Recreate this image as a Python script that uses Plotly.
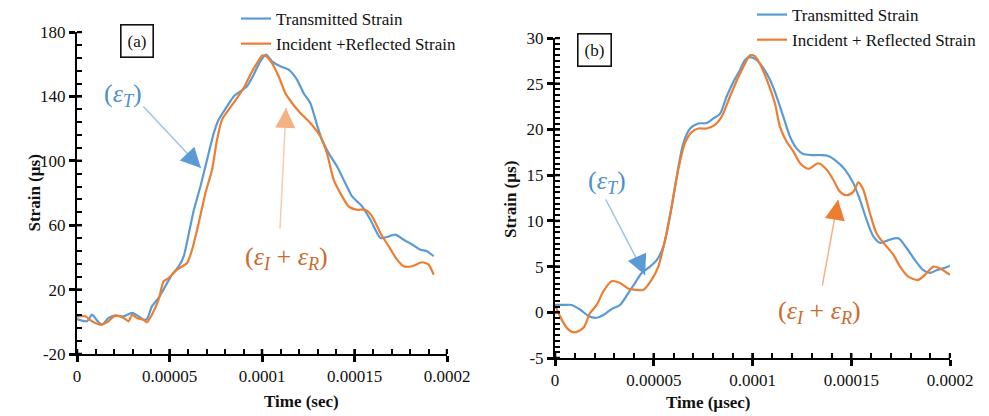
import plotly.graph_objects as go

# ---------------- data: panel (a) ----------------
t_a_T = [0, 0.0000054, 0.0000081, 0.0000108, 0.0000135, 0.0000171, 0.0000207, 0.0000252, 0.0000297,
         0.0000333, 0.0000360, 0.0000378, 0.0000405, 0.0000441, 0.0000477, 0.0000514, 0.0000550,
         0.0000577, 0.0000605, 0.0000632, 0.0000667, 0.0000703, 0.0000739, 0.0000766, 0.0000811,
         0.0000847, 0.0000883, 0.0000919, 0.0000955, 0.0000991, 0.0001022, 0.0001054, 0.0001099,
         0.0001144, 0.0001189, 0.0001225, 0.0001261, 0.0001297, 0.0001324, 0.0001360, 0.0001405,
         0.0001450, 0.0001486, 0.0001514, 0.0001541, 0.0001586, 0.0001640, 0.0001676, 0.0001721,
         0.0001766, 0.0001811, 0.0001856, 0.0001892, 0.0001928]
v_a_T = [1.7, 0.3, 4.4, 0.9, -1.8, 2.4, 3.8, 3.4, 5.5,
         3.4, 1.3, 1.7, 9.6, 14.8, 22.0, 29.3, 34.5,
         40.7, 55.2, 69.6, 84.0, 100.7, 117.0, 125.6, 133.8,
         140.0, 143.1, 146.3, 153.5, 161.8, 165.9, 161.8, 158.7,
         156.6, 150.4, 142.0, 135.9, 122.4, 113.1, 104.8, 96.6,
         86.2, 78.0, 74.8, 71.7, 63.4, 52.0, 52.7, 54.1,
         51.0, 48.0, 44.8, 43.8, 40.7]

t_a_IR = [0, 0.0000045, 0.0000081, 0.0000126, 0.0000162, 0.0000207, 0.0000252, 0.0000279, 0.0000297,
          0.0000324, 0.0000360, 0.0000378, 0.0000405, 0.0000441, 0.0000468, 0.0000495, 0.0000541,
          0.0000595, 0.0000622, 0.0000658, 0.0000694, 0.0000730, 0.0000757, 0.0000784, 0.0000820,
          0.0000865, 0.0000901, 0.0000937, 0.0000973, 0.0001000, 0.0001018, 0.0001054, 0.0001090,
          0.0001126, 0.0001162, 0.0001207, 0.0001261, 0.0001315, 0.0001351, 0.0001387, 0.0001423,
          0.0001468, 0.0001514, 0.0001559, 0.0001595, 0.0001640, 0.0001685, 0.0001730, 0.0001766,
          0.0001811, 0.0001865, 0.0001901, 0.0001928]
v_a_IR = [3.4, 3.4, 0.3, -1.8, -0.3, 3.8, 2.4, 0.3, 4.4,
          2.4, 1.3, -0.3, 4.4, 13.7, 25.1, 27.2, 32.4,
          36.5, 44.8, 61.4, 79.9, 94.5, 113.1, 125.6, 131.8,
          139.0, 145.2, 153.5, 160.7, 165.3, 165.3, 160.7, 152.5,
          142.1, 135.9, 129.7, 123.5, 115.2, 104.8, 88.3, 80.0,
          71.7, 69.6, 69.6, 65.5, 55.2, 46.9, 38.6, 34.5,
          34.5, 37.0, 35.5, 29.3]

# ---------------- data: panel (b) ----------------
t_b_T = [0, 0.0000042, 0.0000084, 0.0000127, 0.0000169, 0.0000211, 0.0000245, 0.0000287, 0.0000329,
         0.0000371, 0.0000405, 0.0000439, 0.0000481, 0.0000515, 0.0000549, 0.0000582, 0.0000616,
         0.0000650, 0.0000684, 0.0000726, 0.0000768, 0.0000802, 0.0000835, 0.0000869, 0.0000903,
         0.0000937, 0.0000962, 0.0000987, 0.0001021, 0.0001055, 0.0001089, 0.0001122, 0.0001156,
         0.0001190, 0.0001224, 0.0001257, 0.0001300, 0.0001342, 0.0001384, 0.0001426, 0.0001468,
         0.0001511, 0.0001544, 0.0001578, 0.0001612, 0.0001646, 0.0001688, 0.0001738, 0.0001781,
         0.0001823, 0.0001865, 0.0001899, 0.0001932, 0.0001966, 0.0002000]
v_b_T = [0.8, 0.8, 0.8, 0.3, -0.4, -0.6, -0.3, 0.35, 0.8,
         2.1, 3.2, 4.3, 5.0, 5.7, 7.2, 10.5, 14.8,
         18.5, 20.1, 20.65, 20.7, 21.2, 21.7, 23.6, 25.2,
         26.5, 27.6, 27.9, 27.6, 26.7, 25.4, 23.6, 21.4,
         19.2, 17.9, 17.3, 17.2, 17.2, 17.1, 16.5, 15.6,
         14.1, 12.3, 10.1, 8.3, 7.6, 7.9, 8.1, 7.0,
         5.7, 4.6, 4.3, 4.6, 4.8, 5.1]

t_b_IR = [0, 0.0000034, 0.0000068, 0.0000096, 0.0000144, 0.0000177, 0.0000211, 0.0000245, 0.0000287,
          0.0000329, 0.0000371, 0.0000414, 0.0000447, 0.0000489, 0.0000523, 0.0000557, 0.0000591,
          0.0000624, 0.0000658, 0.0000692, 0.0000726, 0.0000768, 0.0000810, 0.0000844, 0.0000886,
          0.0000928, 0.0000962, 0.0000987, 0.0001013, 0.0001046, 0.0001080, 0.0001114, 0.0001139,
          0.0001173, 0.0001207, 0.0001241, 0.0001283, 0.0001333, 0.0001376, 0.0001409, 0.0001443,
          0.0001477, 0.0001511, 0.0001536, 0.0001561, 0.0001595, 0.0001629, 0.0001671, 0.0001713,
          0.0001747, 0.0001789, 0.0001840, 0.0001882, 0.0001916, 0.0001949, 0.0002000]
v_b_IR = [0.8, -0.8, -1.9, -2.2, -1.7, -0.1, 0.8, 2.3, 3.4,
          3.2, 2.6, 2.45, 2.45, 3.55, 5.0, 7.9, 11.6,
          15.6, 18.5, 19.7, 20.1, 20.1, 20.5, 21.4, 23.6,
          25.7, 27.2, 28.1, 28.0, 26.8, 25.0, 22.8, 20.3,
          18.65, 17.6, 16.3, 15.7, 16.3, 15.6, 14.5, 13.2,
          12.8, 13.2, 14.2, 13.4, 10.8, 8.6, 7.4, 6.3,
          5.0, 3.9, 3.55, 4.3, 5.0, 4.8, 4.1]

x_tickvals = [0, 0.00005, 0.0001, 0.00015, 0.0002]
x_ticktext = ["0", "0.00005", "0.0001", "0.00015", "0.0002"]
y_a_ticks = [-20, 20, 60, 100, 140, 180]
y_a_text = ["-20", "20", "60", "100", "140", "180"]
y_b_ticks = [-5, 0, 5, 10, 15, 20, 25, 30]
y_b_text = ["-5", "0", "5", "10", "15", "20", "25", "30"]
x_minor_step = 0.00001
y_a_minor_step = 8
y_b_minor_step = 0.625

BLUE = "#5b9bd5"
ORANGE = "#ed7d31"
SERIF = "Liberation Serif"
W, H = 989, 416
INK = "#000000"

def px_x(p):
    return p / W

def px_y(p):
    return 1 - p / H

fig = go.Figure()
fig.add_trace(go.Scatter(x=t_a_T, y=v_a_T, mode="lines", name="Transmitted Strain",
                         line=dict(color=BLUE, width=2.2, shape="spline", smoothing=0.6),
                         xaxis="x", yaxis="y", legend="legend"))
fig.add_trace(go.Scatter(x=t_a_IR, y=v_a_IR, mode="lines", name="Incident +Reflected Strain",
                         line=dict(color=ORANGE, width=2.2, shape="spline", smoothing=0.6),
                         xaxis="x", yaxis="y", legend="legend"))
fig.add_trace(go.Scatter(x=t_b_T, y=v_b_T, mode="lines", name="Transmitted Strain",
                         line=dict(color=BLUE, width=2.2, shape="spline", smoothing=0.8),
                         xaxis="x2", yaxis="y2", legend="legend2"))
fig.add_trace(go.Scatter(x=t_b_IR, y=v_b_IR, mode="lines", name="Incident + Reflected Strain",
                         line=dict(color=ORANGE, width=2.2, shape="spline", smoothing=0.8),
                         xaxis="x2", yaxis="y2", legend="legend2"))

tickfont = dict(family=SERIF, size=17, color="#111")

# plot areas in pixels
XA = (77, 447); YA = (32, 354)
XB = (555, 950); YB = (38, 358)
dom_xa = [px_x(XA[0]), px_x(XA[1])]
dom_ya = [px_y(YA[1]), px_y(YA[0])]
dom_xb = [px_x(XB[0]), px_x(XB[1])]
dom_yb = [px_y(YB[1]), px_y(YB[0])]

def xax(domain, anchor):
    return dict(domain=domain, anchor=anchor, range=[0, 0.0002], tickmode="array",
                tickvals=x_tickvals, ticktext=x_ticktext, ticks="outside", ticklen=6,
                tickwidth=2.5, tickcolor=INK, showline=True, linecolor=INK,
                linewidth=2, showgrid=False, zeroline=False, tickfont=tickfont,
                minor=dict(tickmode="linear", tick0=0, dtick=x_minor_step, ticks="inside",
                           ticklen=5, tickwidth=2, tickcolor=INK, showgrid=False))

def yax(domain, anchor, rng, vals, text, mstep):
    return dict(domain=domain, anchor=anchor, range=rng, tickmode="array",
                tickvals=vals, ticktext=text, ticks="outside", ticklen=6,
                tickwidth=2.5, tickcolor=INK, showline=True, linecolor=INK,
                linewidth=2, showgrid=False, zeroline=False, tickfont=tickfont,
                minor=dict(tickmode="linear", tick0=rng[0], dtick=mstep, ticks="inside",
                           ticklen=5, tickwidth=2, tickcolor=INK, showgrid=False))

legend_font = dict(family=SERIF, size=17, color="#111")
fig.update_layout(
    width=W, height=H,
    margin=dict(l=0, r=0, t=0, b=0, autoexpand=False),
    paper_bgcolor="white", plot_bgcolor="white",
    xaxis=xax(dom_xa, "y"),
    yaxis=yax(dom_ya, "x", [-20, 180], y_a_ticks, y_a_text, y_a_minor_step),
    xaxis2=xax(dom_xb, "y2"),
    yaxis2=yax(dom_yb, "x2", [-5, 30], y_b_ticks, y_b_text, y_b_minor_step),
    legend=dict(x=px_x(236), y=px_y(1), xanchor="left", yanchor="top",
                font=legend_font, bgcolor="rgba(0,0,0,0)", tracegroupgap=0, itemwidth=30),
    legend2=dict(x=px_x(752), y=px_y(-3), xanchor="left", yanchor="top",
                 font=legend_font, bgcolor="rgba(0,0,0,0)", tracegroupgap=0, itemwidth=30),
    showlegend=True,
)

# inner half of the crossing major ticks (drawn above the plot area)
MAJ_IN = 5
shapes = []
for v in x_tickvals:
    for xr, yr, ph in (("x", "y", YA[1] - YA[0]), ("x2", "y2", YB[1] - YB[0])):
        shapes.append(dict(type="line", xref=xr, yref=yr + " domain", x0=v, x1=v,
                           y0=0, y1=MAJ_IN / ph, layer="above",
                           line=dict(color=INK, width=2.5)))
for v in y_a_ticks:
    shapes.append(dict(type="line", xref="x domain", yref="y", y0=v, y1=v,
                       x0=0, x1=MAJ_IN / (XA[1] - XA[0]), layer="above",
                       line=dict(color=INK, width=2.5)))
for v in y_b_ticks:
    shapes.append(dict(type="line", xref="x2 domain", yref="y2", y0=v, y1=v,
                       x0=0, x1=MAJ_IN / (XB[1] - XB[0]), layer="above",
                       line=dict(color=INK, width=2.5)))

title_font = dict(family=SERIF, size=17, color="#111")
ann = []
ann.append(dict(text="<b>Strain (µs)</b>", x=px_x(22), y=px_y(193), xref="paper", yref="paper",
                textangle=-90, showarrow=False, font=title_font))
ann.append(dict(text="<b>Time (sec)</b>", x=px_x(262), y=px_y(413), xref="paper", yref="paper",
                yanchor="bottom", showarrow=False, font=title_font))
ann.append(dict(text="<b>Strain (µs)</b>", x=px_x(510), y=px_y(200), xref="paper", yref="paper",
                textangle=-90, showarrow=False, font=title_font))
ann.append(dict(text="<b>Time (µsec)</b>", x=px_x(753), y=px_y(414), xref="paper", yref="paper",
                yanchor="bottom", showarrow=False, font=title_font))
ann.append(dict(text="(a)", x=px_x(119.5), y=px_y(24.5), xref="paper", yref="paper",
                showarrow=False, font=dict(family=SERIF, size=17, color="#111"),
                bordercolor="#111", borderwidth=1.6, borderpad=6, bgcolor="white"))
ann.append(dict(text="(b)", x=px_x(594.5), y=px_y(33), xref="paper", yref="paper",
                showarrow=False, font=dict(family=SERIF, size=17, color="#111"),
                bordercolor="#111", borderwidth=1.6, borderpad=6, bgcolor="white"))

eps_T = "(<i>ε</i><sub><i>T</i></sub>)"
eps_IR = "(<i>ε</i><sub><i>I</i></sub> + <i>ε</i><sub><i>R</i></sub>)"
BLUE_TXT = "#4f8fd0"
ORANGE_TXT = "#cd6a2c"

def label(text, x, y, xr, yr, color):
    return dict(text=text, x=x, y=y, xref=xr, yref=yr, showarrow=False,
                font=dict(family=SERIF, size=26, color=color))

def arrow_line(x0, y0, x1, y1, xr, yr, color):
    return dict(text="", x=x1, y=y1, ax=x0, ay=y0, xref=xr, yref=yr, axref=xr, ayref=yr,
                showarrow=True, arrowhead=0, arrowwidth=1.5, arrowcolor=color)

def arrow_head(x0, y0, x1, y1, xr, yr, color):
    return dict(text="", x=x1, y=y1, ax=x0, ay=y0, xref=xr, yref=yr, axref=xr, ayref=yr,
                showarrow=True, arrowhead=2, arrowsize=2.0, arrowwidth=2, arrowcolor=color)

ann.append(label(eps_T, 0.0000249, 140.9, "x", "y", BLUE_TXT))
ann.append(arrow_line(0.0000351, 134.7, 0.0000670, 95.5, "x", "y", "#9dc3e6"))
ann.append(arrow_head(0.0000620, 101.5, 0.0000670, 95.5, "x", "y", BLUE))
ann.append(label(eps_IR, 0.0001135, 39.6, "x", "y", ORANGE_TXT))
ann.append(arrow_line(0.0001097, 57.0, 0.0001130, 132.8, "x", "y", "#f8cbad"))
ann.append(arrow_head(0.0001127, 124.0, 0.0001130, 132.8, "x", "y", "#f4b183"))
ann.append(label(eps_T, 0.0000263, 14.25, "x2", "y2", BLUE_TXT))
ann.append(arrow_line(0.0000253, 12.5, 0.0000456, 4.07, "x2", "y2", "#9dc3e6"))
ann.append(arrow_head(0.0000425, 5.6, 0.0000456, 4.07, "x2", "y2", BLUE))
ann.append(label(eps_IR, 0.000134, 0.02, "x2", "y2", ORANGE_TXT))
ann.append(arrow_line(0.0001352, 2.76, 0.0001433, 12.3, "x2", "y2", "#f4b183"))
ann.append(arrow_head(0.0001422, 10.8, 0.0001433, 12.3, "x2", "y2", ORANGE))

fig.update_layout(annotations=ann, shapes=shapes)
fig.write_html("out.html")
